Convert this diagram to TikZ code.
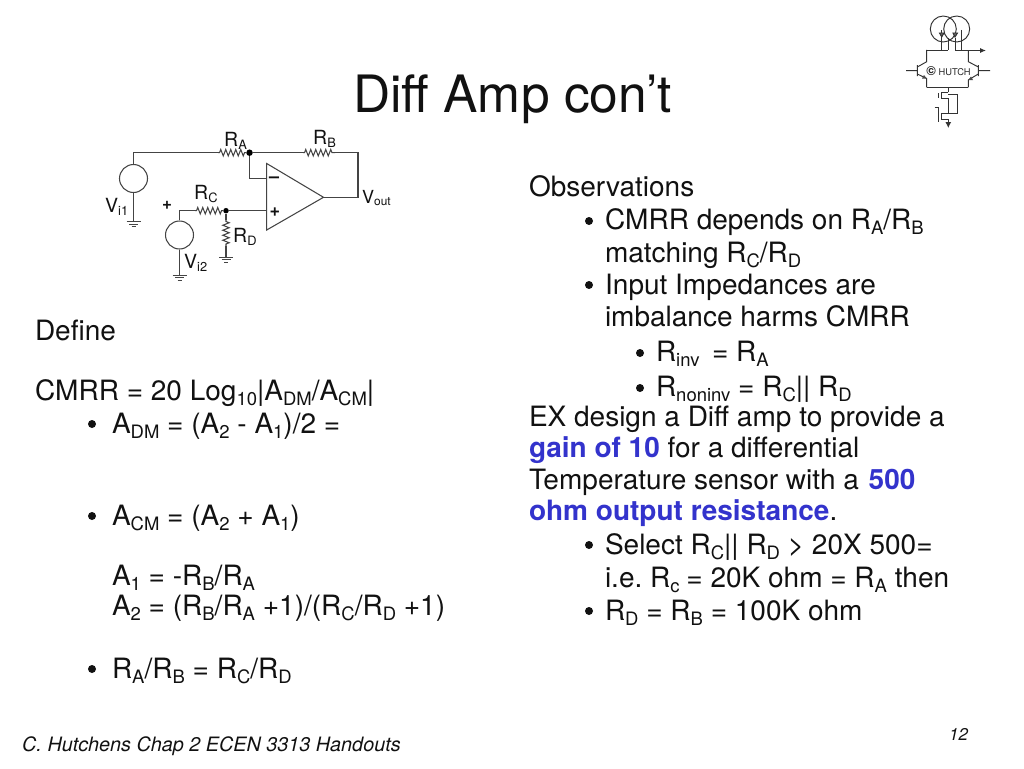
\documentclass[tikz,border=0pt]{standalone}
\usepackage{fontspec}
\usepackage{graphicx}
\setmainfont{TeX Gyre Heros}
\frenchspacing
\usetikzlibrary{decorations.pathmorphing,arrows.meta}
\newcommand{\dn}[1]{\raisebox{-0.16em}{\scalebox{0.66}{#1}}}
\newcommand{\bfblue}[1]{\textcolor{hiblue}{\bfseries #1}}
\definecolor{hiblue}{HTML}{3333CC}
\definecolor{ink}{HTML}{111111}
\definecolor{wire}{HTML}{444444}
\tikzset{
  body/.style={anchor=base west,yshift=-0.8pt,inner sep=0pt,outer sep=0pt,text=ink,font=\fontsize{28}{32}\selectfont},
  bul/.style={circle,fill=ink,inner sep=0pt,minimum size=8pt},
  title/.style={anchor=base,inner sep=0pt,text=ink,font=\fontsize{51.5}{56}\selectfont},
  foot/.style={anchor=base west,inner sep=0pt,text=ink,font=\fontsize{19.8}{24}\selectfont\itshape},
  clabel/.style={anchor=base west,inner sep=0pt,text=ink,font=\fontsize{19.5}{20}\selectfont},
  wirel/.style={draw=wire,line width=1.05pt},
  res/.style={draw=wire,line width=1.05pt,decoration={zigzag,segment length=5pt,amplitude=3.2pt,pre length=1.5pt,post length=1.5pt},decorate},
  dot/.style={circle,fill=black,inner sep=0pt,minimum size=6.5pt},
  src/.style={circle,draw=wire,line width=1.05pt,fill=white,inner sep=0pt,minimum size=28pt},
  grnd/.pic={\draw[wirel,line width=.9pt] (-7,0)--(7,0) (-4.5,2.5)--(4.5,2.5) (-2,5)--(2,5);},
  logo/.style={draw=black!80,line width=.95pt},
}
\begin{document}
\begin{tikzpicture}[x=1pt,y=-1pt]
\useasboundingbox (0,0) rectangle (1024,768);
\fill[white] (0,0) rectangle (1024,768);
\node[title] (ttl) at (512.5,112) {Diff Amp con’t};

% circuit points
\node[src] (vi1) at (133.5,178.5) {};
\node[src] (vi2) at (179.5,235) {};
\node[dot] (n1) at (249.5,152.7) {};
\node[dot,minimum size=5.5pt] (n2) at (226,210.7) {};
\coordinate (tl) at (133.5,152.7);
\coordinate (ras) at (218,152.7);
\coordinate (rbs) at (303,152.7);
\coordinate (rbe) at (335,152.7);
\coordinate (tr) at (358,152.7);
\coordinate (outr) at (358,197.3);
\coordinate (tip) at (323.5,197.3);
\coordinate (oat) at (266.7,163.5);
\coordinate (oab) at (266.7,230);
\coordinate (inm) at (266.7,178.3);
\coordinate (inmc) at (249.5,178.3);
\coordinate (inp) at (266.7,210.7);
\coordinate (v2t) at (179.5,210.7);
\coordinate (rcs) at (195,210.7);
\coordinate (rce) at (222,210.7);
\coordinate (rds) at (226,220);
\coordinate (rde) at (226,246);
\coordinate (g1) at (133.5,221.5);
\coordinate (g2) at (179.5,275);
\coordinate (g3) at (226,257);

\draw[wirel] (vi1.north) -- (tl) -- (ras);
\draw[res] (ras) -- (n1);
\draw[wirel] (n1) -- (rbs);
\draw[res] (rbs) -- (rbe);
\draw[wirel] (rbe) -- (tr) -- (outr) -- (tip);
\draw[wirel] (oat) -- (tip) -- (oab) -- cycle;
\draw[wirel] (n1) -- (inmc) -- (inm);
\draw[wirel] (n2) -- (inp);
\draw[wirel] (vi2.north) -- (v2t) -- (rcs);
\draw[res] (rcs) -- (n2);
\draw[wirel] (n2) -- (rds);
\draw[res] (rds) -- (rde);
\draw[wirel] (rde) -- (g3);
\draw[wirel] (vi1.south) -- (g1);
\draw[wirel] (vi2.south) -- (g2);
\pic at (g1) {grnd};
\pic at (g2) {grnd};
\pic at (g3) {grnd};

\node[clabel] (lra) at (224,146) {R\dn{A}};
\node[clabel] (lrb) at (313,144) {R\dn{B}};
\node[clabel,font=\fontsize{18}{20}\selectfont] (lvo) at (362,203) {V\dn{out}};
\node[clabel] (lv1) at (105,212) {V\dn{i1}};
\node[clabel] (lv2) at (184,268) {V\dn{i2}};
\node[clabel] (lrc) at (194,199) {R\dn{C}};
\node[clabel] (lrd) at (233,242) {R\dn{D}};
\node[clabel,anchor=center,font=\fontsize{17}{20}\selectfont\bfseries] (lp1) at (167,205) {+};
\node[clabel,anchor=center,font=\fontsize{18}{20}\selectfont\bfseries] (lm) at (274,180) {–};
\node[clabel,anchor=center,font=\fontsize{18}{20}\selectfont\bfseries] (lp2) at (275,212) {+};

% left column
\node[body] (t1) at (35,340) {Define};
\node[body] (t2) at (35,400) {CMRR = 20 Log\dn{10}|A\dn{DM}/A\dn{CM}|};
\node[bul] (b1) at (92,424) {};
\node[body] (t3) at (112,433) {A\dn{DM} = (A\dn{2} - A\dn{1})/2 =};
\node[bul] (b2) at (92,516) {};
\node[body] (t4) at (112,525) {A\dn{CM} = (A\dn{2} + A\dn{1})};
\node[body] (t5) at (112,585) {A\dn{1} = -R\dn{B}/R\dn{A}};
\node[body] (t6) at (112,615) {A\dn{2} = (R\dn{B}/R\dn{A} +1)/(R\dn{C}/R\dn{D} +1)};
\node[bul] (b3) at (92,669) {};
\node[body] (t7) at (112,678) {R\dn{A}/R\dn{B} = R\dn{C}/R\dn{D}};

% right column
\node[body] (r1) at (529,196) {Observations};
\node[bul] (c1) at (589,221) {};
\node[body] (r2) at (605,229) {CMRR depends on R\dn{A}/R\dn{B}};
\node[body] (r3) at (605,262) {matching R\dn{C}/R\dn{D}};
\node[bul] (c2) at (589,285) {};
\node[body] (r4) at (605,294) {Input Impedances are};
\node[body] (r5) at (605,326) {imbalance harms CMRR};
\node[bul] (c3) at (640,353) {};
\node[body] (r6) at (656,361) {R\dn{inv}\, = R\dn{A}};
\node[bul] (c4) at (640,388) {};
\node[body] (r7) at (656,396) {R\dn{noninv} = R\dn{C}|| R\dn{D}};
\node[body] (r8) at (529,426) {EX design a Diff amp to provide a};
\node[body] (r9) at (529,457) {\bfblue{gain of 10} for a differential};
\node[body] (r10) at (529,489) {Temperature sensor with a \bfblue{\kern2pt 500}};
\node[body] (r11) at (529,520) {\bfblue{ohm output resistance}.};
\node[bul] (c5) at (589,545) {};
\node[body] (r12) at (605,554) {Select R\dn{C}|| R\dn{D} > 20X 500=};
\node[body] (r13) at (605,587) {i.e. R\dn{c}\kern-1pt\ = 20K ohm = R\dn{A} then};
\node[bul] (c6) at (589,611) {};
\node[body] (r14) at (605,620) {R\dn{D} = R\dn{B} = 100K ohm};

\node[foot] (f1) at (22,751) {C. Hutchens Chap 2 ECEN 3313 Handouts};
\node[foot,font=\fontsize{17}{20}\selectfont\itshape] (f2) at (949,740) {12};

% logo
\draw[logo] (943.3,29) circle (13);
\draw[logo] (956.7,29) circle (13);
\draw[logo] (941.7,30)--(941.7,50) (948.3,38)--(948.3,50) (955,38)--(955,50.5) (961.7,30)--(961.7,50.5);
\draw[logo] (926.7,50)--(948.3,50) (955,50.5)--(968.3,50.5);
\draw[logo,-{Latex[length=6pt,width=5pt]}] (968.3,50.5)--(986,50.5);
\draw[logo,fill=black!60] (939.5,33)--(944,33)--(941.7,37)--cycle (953,33)--(957.5,33)--(955,37)--cycle;
% BJTs
\draw[logo] (906,70.7)--(917.3,70.7) (917.3,65)--(917.3,76) (917.3,67)--(926.7,61.7)--(926.7,50);
\draw[logo] (917.3,74)--(926.7,78.5)--(926.7,87.3);
\draw[logo] (978.3,65)--(978.3,76) (978.3,70.7)--(990,70.7) (978.3,67)--(968.3,61.7)--(968.3,50.5);
\draw[logo] (978.3,74)--(968.3,80)--(968.3,87.3);
\fill[black!70] (926.7,78.5)--(922,78.5)--(924,75)--cycle (968.3,80)--(973,80)--(971,76.5)--cycle;
\draw[logo] (926.7,87.3)--(968.3,87.3);
\node[inner sep=0pt,text=black!85,font=\fontsize{9.3}{12}\selectfont] (lg) at (948.5,71) {{\fontsize{13}{12}\selectfont\bfseries©} HUTCH};
% MOS
\draw[logo] (948.3,87.3)--(948.3,92) (948.3,92)--(941,92)--(941,98)--(948.3,98)--(948.3,113)--(941,113)--(941,119)--(948.3,119)--(948.3,123);
\draw[logo] (938,93)--(938,98) (938,107)--(938,122) (934.5,107)--(938,107);
\draw[logo] (948.3,94)--(957.5,94)--(957.5,113)--(948.3,113);
\draw[logo,-{Latex[length=6pt,width=6pt]}] (948.3,119)--(948.3,128);
\end{tikzpicture}
\end{document}
